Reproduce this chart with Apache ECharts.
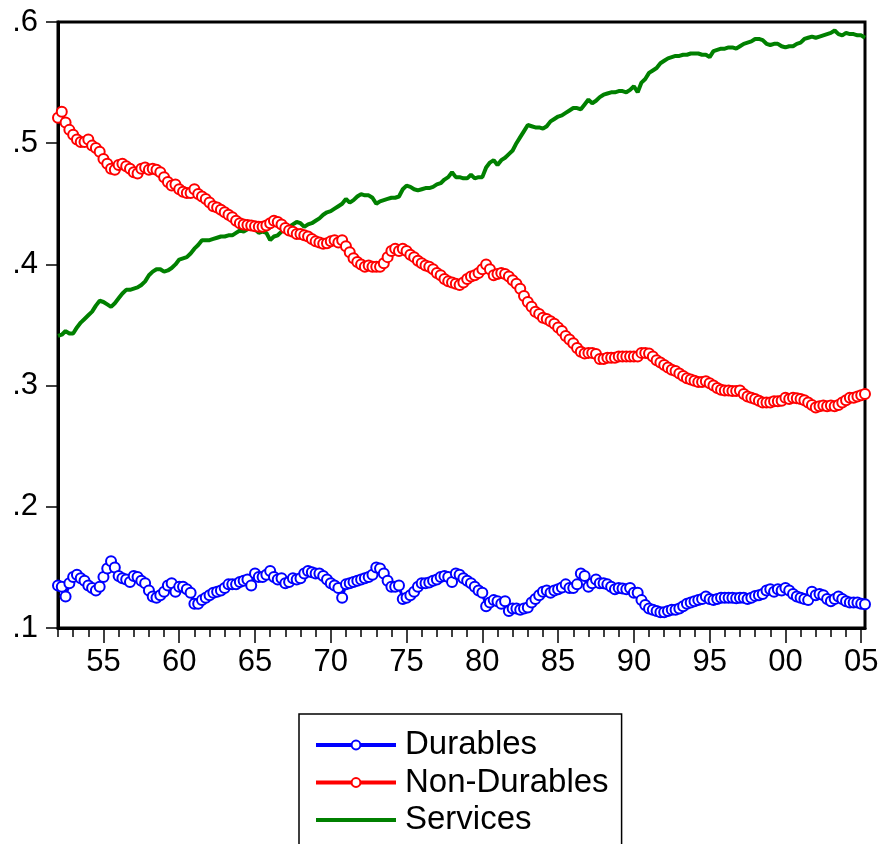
<!DOCTYPE html>
<html>
<head>
<meta charset="utf-8">
<script src="https://cdn.jsdelivr.net/npm/echarts@6/dist/echarts.min.js"></script>
<style>
  html, body { margin: 0; padding: 0; background: #fff; }
  #chart { width: 884px; height: 844px; }
</style>
</head>
<body>
<div id="chart"></div>
<script>
// Quarterly shares of consumption spending, 1952Q1 - 2005Q2
const firstYear = 1952;
const lastYear = 2005;
const lastQuarter = 2;

const durables = [
  .135,.134,.126,.137, .142,.144,.141,.139, .135,.133,.131,.134, .142,.149,.155,.150, // 1952-55
  .143,.141,.140,.138, .143,.142,.139,.137, .131,.126,.125,.127, .130,.135,.137,.130, // 1956-59
  .134,.134,.132,.129, .120,.120,.123,.125, .127,.129,.130,.131, .133,.136,.136,.136, // 1960-63
  .138,.139,.140,.135, .145,.142,.142,.144, .147,.142,.140,.141, .137,.138,.141,.140, // 1964-67
  .141,.145,.147,.146, .145,.145,.143,.140, .137,.135,.133,.125, .136,.137,.138,.139, // 1968-71
  .140,.141,.142,.144, .150,.149,.145,.139, .134,.134,.135,.124, .125,.127,.130,.134, // 1972-75
  .137,.137,.1375,.139, .140,.142,.143,.142, .138,.145,.144,.141, .139,.137,.134,.131, // 1976-79
  .129,.118,.121,.123, .122,.120,.122,.114, .116,.116,.115,.116, .117,.121,.124,.127, // 1980-83
  .130,.131,.129,.131, .132,.1335,.136,.133, .133,.136,.145,.143, .134,.137,.140,.137, // 1984-87
  .137,.136,.134,.132, .133,.1325,.132,.133, .129,.129,.123,.119, .116,.115,.114,.113, // 1988-91
  .113,.114,.115,.115, .116,.118,.120,.121, .122,.123,.124,.126, .124,.123,.124,.125, // 1992-95
  .125,.125,.125,.1245, .125,.125,.124,.125, .1265,.127,.128,.131, .132,.130,.132,.131, // 1996-99
  .133,.131,.128,.126, .125,.124,.123,.130, .127,.128,.127,.124, .122,.124,.126,.124, // 2000-03
  .122,.121,.121,.121, .120,.1195                                                      // 2004-05
];

const nonDurables = [
  .521,.526,.517,.511, .507,.503,.501,.501, .503,.498,.496,.493, .487,.483,.479,.478, // 1952-55
  .482,.483,.481,.479, .476,.475,.479,.480, .478,.479,.478,.476, .472,.468,.465,.466, // 1956-59
  .462,.460,.459,.459, .462,.458,.456,.454, .451,.448,.447,.445, .443,.441,.439,.436, // 1960-63
  .434,.433,.4325,.432, .4315,.431,.431,.432, .434,.436,.435,.433, .430,.428,.427,.425, // 1964-67
  .425,.424,.423,.421, .419,.418,.417,.4175, .419,.420,.418,.420, .415,.410,.405,.402, // 1968-71
  .400,.398,.399,.398, .398,.398,.401,.406, .411,.413,.411,.413, .411,.408,.406,.403, // 1972-75
  .401,.399,.398,.396, .393,.391,.388,.386, .385,.384,.383,.385, .388,.390,.391,.393, // 1976-79
  .396,.400,.396,.391, .392,.393,.392,.390, .387,.384,.380,.374, .369,.365,.361,.359, // 1980-83
  .356,.355,.353,.351, .348,.345,.341,.338, .335,.331,.328,.3265, .327,.327,.326,.322, // 1984-87
  .322,.323,.323,.323, .324,.324,.324,.324, .324,.324,.327,.327, .3265,.324,.321,.319, // 1988-91
  .317,.315,.313,.312, .310,.308,.306,.305, .304,.303,.303,.3035, .302,.300,.298,.2965, // 1992-95
  .296,.296,.2955,.2955, .296,.293,.291,.290, .289,.2875,.286,.286, .286,.287,.287,.2875, // 1996-99
  .290,.289,.290,.2895, .289,.288,.286,.284, .282,.283,.2835,.283, .2835,.283,.284,.286, // 2000-03
  .288,.290,.290,.291, .292,.293                                                         // 2004-05
];

const services = [
  .341,.342,.345,.343, .343,.348,.352,.355, .358,.361,.366,.370, .369,.367,.365,.368, // 1952-55
  .372,.376,.379,.379, .380,.381,.383,.386, .391,.394,.396,.396, .394,.395,.397,.400, // 1956-59
  .404,.405,.406,.409, .413,.416,.420,.420, .420,.421,.422,.423, .423,.424,.424,.426, // 1960-63
  .428,.427,.429,.431, .429,.426,.427,.426, .420,.423,.424,.427, .429,.431,.433,.435, // 1964-67
  .434,.431,.433,.434, .436,.438,.441,.443, .444,.446,.448,.450, .454,.451,.453,.456, // 1968-71
  .458,.457,.457,.455, .450,.452,.453,.454, .455,.455,.456,.462, .465,.464,.462,.461, // 1972-75
  .462,.463,.463,.464, .466,.467,.470,.472, .476,.472,.472,.471, .471,.474,.471,.472, // 1976-79
  .472,.480,.484,.486, .482,.486,.488,.491, .494,.500,.505,.510, .515,.514,.513,.513, // 1980-83
  .512,.514,.518,.520, .522,.523,.525,.527, .529,.529,.528,.532, .536,.533,.535,.538, // 1984-87
  .540,.541,.542,.542, .543,.543,.542,.544, .547,.542,.550,.553, .558,.560,.562,.566, // 1988-91
  .568,.570,.571,.572, .572,.573,.573,.574, .574,.574,.573,.573, .571,.576,.577,.578, // 1992-95
  .578,.579,.579,.578, .580,.582,.583,.584, .586,.586,.585,.582, .581,.582,.582,.580, // 1996-99
  .579,.580,.580,.582, .583,.586,.587,.588, .587,.588,.589,.590, .591,.593,.590,.589, // 2000-03
  .591,.590,.590,.589, .589,.587                                                         // 2004-05
];

const seriesNames = ['Durables', 'Non-Durables', 'Services'];
const seriesColors = ['#0000ff', '#ff0000', '#008000'];
const yTicks = [0.1, 0.2, 0.3, 0.4, 0.5, 0.6];

// Category labels such as "1952Q1"
const quarters = [];
for (let y = firstYear; y <= lastYear; y++) {
  for (let q = 1; q <= 4; q++) {
    if (y === lastYear && q > lastQuarter) break;
    quarters.push(y + 'Q' + q);
  }
}

const FONT = 'Liberation Sans, Arial, Helvetica, sans-serif';
const isYearStart = (v) => /Q1$/.test(v);
const isMajor = (v) => isYearStart(v) && parseInt(v, 10) % 5 === 0;

const chart = echarts.init(document.getElementById('chart'), null, { renderer: 'canvas' });

const markerSeries = (idx, values) => ({
  name: seriesNames[idx],
  type: 'line',
  xAxisIndex: 0,
  data: values,
  symbol: 'emptyCircle',
  symbolSize: 10,
  showAllSymbol: true,
  clip: true,
  lineStyle: { color: seriesColors[idx], width: 3 },
  itemStyle: { color: seriesColors[idx], borderColor: seriesColors[idx], borderWidth: 2.2 },
  emphasis: { disabled: true },
  animation: false,
  z: 3
});

chart.setOption({
  backgroundColor: '#ffffff',
  animation: false,
  grid: {
    left: 58, right: 19, top: 22, bottom: 216,
    show: true, borderColor: '#000', borderWidth: 3, backgroundColor: 'transparent'
  },
  legend: {
    orient: 'vertical',
    left: 299, top: 714, height: 400,
    padding: [14.5, 13, 60, 15],
    borderColor: '#000', borderWidth: 1.5,
    itemWidth: 80, itemHeight: 11, itemGap: 4.5,
    textStyle: { fontFamily: FONT, fontSize: 33, color: '#000', lineHeight: 33, padding: [0, 0, 0, 4] },
    selectedMode: false,
    data: [
      { name: 'Durables', lineStyle: { width: 4 } },
      { name: 'Non-Durables', lineStyle: { width: 4 } },
      { name: 'Services', lineStyle: { width: 4 }, itemStyle: { opacity: 0 } }
    ]
  },
  xAxis: [
    {
      type: 'category', data: quarters, boundaryGap: false, position: 'bottom',
      axisLine: { show: true, lineStyle: { color: '#000', width: 3 } },
      axisTick: { show: true, length: 9, interval: (i, v) => isYearStart(v), lineStyle: { color: '#000', width: 1.5 } },
      axisLabel: { show: false },
      splitLine: { show: false }
    },
    {
      type: 'category', data: quarters, boundaryGap: false, position: 'bottom',
      axisLine: { show: false },
      axisTick: { show: true, length: 15, interval: (i, v) => isMajor(v), lineStyle: { color: '#000', width: 1.5 } },
      axisLabel: {
        show: true, interval: (i, v) => isMajor(v), margin: 19,
        fontFamily: FONT, fontSize: 31, color: '#000',
        formatter: (v) => v.slice(2, 4)
      },
      splitLine: { show: false }
    }
  ],
  yAxis: {
    type: 'value', min: yTicks[0], max: yTicks[yTicks.length - 1], interval: 0.1,
    axisLine: { show: true, lineStyle: { color: '#000', width: 3 } },
    axisTick: { show: true, length: 12, lineStyle: { color: '#000', width: 1.5 } },
    axisLabel: {
      margin: 20, fontFamily: FONT, fontSize: 31, color: '#000',
      formatter: (v) => v.toFixed(1).replace(/^0/, '')
    },
    splitLine: { show: false }
  },
  series: [
    markerSeries(0, durables),
    markerSeries(1, nonDurables),
    {
      name: seriesNames[2],
      type: 'line',
      xAxisIndex: 0,
      data: services,
      symbol: 'none',
      clip: true,
      lineStyle: { color: seriesColors[2], width: 4 },
      itemStyle: { color: seriesColors[2] },
      emphasis: { disabled: true },
      animation: false,
      z: 2
    }
  ]
});
</script>
</body>
</html>
